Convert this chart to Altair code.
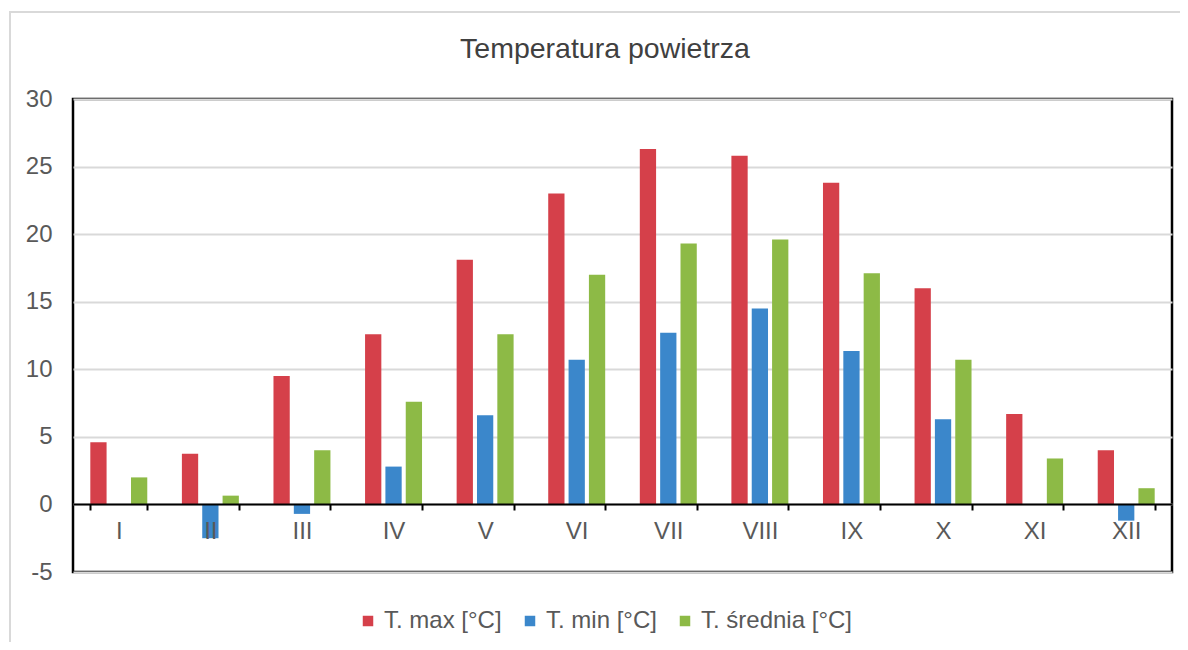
import altair as alt
import pandas as pd

months = ["I", "II", "III", "IV", "V", "VI", "VII", "VIII", "IX", "X", "XI", "XII"]
t_max = [4.6, 3.75, 9.5, 12.6, 18.1, 23.0, 26.3, 25.8, 23.8, 16.0, 6.7, 4.0]
t_min = [0.0, -2.5, -0.7, 2.8, 6.6, 10.7, 12.7, 14.5, 11.35, 6.3, 0.0, -1.2]
t_avg = [2.0, 0.65, 4.0, 7.6, 12.6, 17.0, 19.3, 19.6, 17.1, 10.7, 3.4, 1.2]
series = ["T. max [°C]", "T. min [°C]", "T. średnia [°C]"]
colors = ["#D5404A", "#3B87CB", "#8DBA46"]
title_text = ["Temperatura powietrza"]

rows = []
for s, vals in zip(series, [t_max, t_min, t_avg]):
    for m, v in zip(months, vals):
        rows.append({"month": m, "series": s, "value": v})
df = pd.DataFrame(rows)

FONT = "Liberation Sans"
W, H = 1099, 473

bars = alt.Chart(df).mark_bar().encode(
    x=alt.X("month:N", sort=months, title=None,
            scale=alt.Scale(paddingInner=0.378, paddingOuter=0.189),
            axis=alt.Axis(offset=-68, domainColor="black", domainWidth=2,
                          tickColor="black", tickWidth=2, tickSize=6,
                          tickBand="extent", labelAngle=0, labelPadding=9,
                          labelFont=FONT, labelFontSize=24, labelColor="#595959",
                          grid=False, zindex=1)),
    xOffset=alt.XOffset("series:N", sort=series,
                        scale=alt.Scale(paddingInner=0.2, paddingOuter=0)),
    y=alt.Y("value:Q", title=None,
            scale=alt.Scale(domain=[-5, 30], nice=False, zero=False),
            axis=alt.Axis(values=[-5, 0, 5, 10, 15, 20, 25, 30], domain=False, ticks=False,
                          labelExpr="'' + datum.value",
                          labelPadding=21, labelFont=FONT, labelFontSize=24,
                          labelColor="#595959", gridColor="#D9D9D9", gridWidth=2)),
    color=alt.Color("series:N", sort=series,
                    scale=alt.Scale(domain=series, range=colors),
                    legend=alt.Legend(title=None, orient="none", legendX=283, legendY=510,
                                      direction="horizontal", symbolType="square",
                                      symbolSize=110, symbolStrokeWidth=0,
                                      labelFont=FONT, labelFontSize=24,
                                      labelColor="#595959", labelOffset=4,
                                      columnPadding=16)),
)

border = alt.Chart(pd.DataFrame({"a": [0]})).mark_rect(
    fill="transparent", stroke="#D9D9D9", strokeWidth=2
).encode(
    x=alt.value(-63), x2=alt.value(W + 40), y=alt.value(-87), y2=alt.value(H + 100)
)

title = alt.Chart(pd.DataFrame({"t": title_text})).mark_text(
    font=FONT, fontSize=28.5, color="#404040", align="center", baseline="middle"
).encode(
    text="t:N", x=alt.value(532), y=alt.value(-50)
)

chart = alt.layer(border, bars, title).properties(
    width=W, height=H,
    autosize=alt.AutoSizeParams(type="none"),
    padding={"left": 65, "top": 91, "right": 8, "bottom": 70},
    background="white",
).configure_view(stroke="black", strokeWidth=2.5)

chart.save("out.html", embed_options={"renderer": "svg", "actions": False})
